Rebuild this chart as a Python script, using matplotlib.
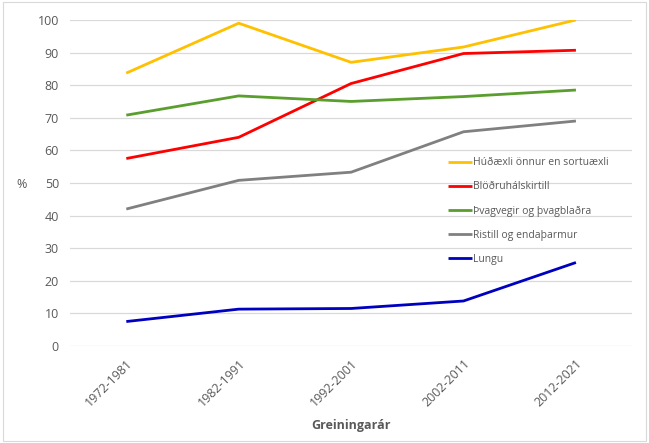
import matplotlib.pyplot as plt
import numpy as np

periods = ['1972-1981', '1982-1991', '1992-2001', '2002-2011', '2012-2021']
hud = [83.7, 99.0, 87.0, 91.7, 100.0]
blodru = [57.5, 64.0, 80.5, 89.7, 90.7]
thvag = [70.8, 76.7, 75.0, 76.5, 78.5]
ristill = [42.0, 50.8, 53.3, 65.7, 69.0]
lungu = [7.5, 11.3, 11.5, 13.8, 25.6]

names = ['Húðæxli önnur en sortuæxli', 'Blöðruhálskirtill', 'Þvagvegir og þvagblaðra',
         'Ristill og endaþarmur', 'Lungu']
colors = ['#FFC000', '#FF0000', '#5A9E2E', '#808080', '#0000C0']

plt.rcParams['font.family'] = ['Open Sans', 'DejaVu Sans']
txt = '#595959'

fig = plt.figure(figsize=(6.49, 4.43), dpi=100)
ax = fig.add_axes([0.108, 0.219, 0.866, 0.736])

x = np.arange(len(periods))
for vals, name, c in zip([hud, blodru, thvag, ristill, lungu], names, colors):
    ax.plot(x, vals, color=c, lw=2.0, label=name, solid_capstyle='butt')

ax.set_xlim(-0.5, 4.5)
ax.set_ylim(0, 100)
ax.set_yticks(range(0, 101, 10))
ax.set_xticks(x)
ax.set_xticklabels(periods, rotation=45, ha='right', rotation_mode='anchor')
ax.tick_params(length=0, colors=txt, labelsize=9, pad=8)
ax.grid(axis='y', color='#D9D9D9', lw=0.9)
ax.set_axisbelow(True)
for s in ax.spines.values():
    s.set_visible(False)

ax.set_xlabel('Greiningarár', color=txt, fontsize=9, fontweight='bold', labelpad=7)
fig.text(22 / 649, 1 - 184 / 443, '%', color=txt, fontsize=9, ha='center', va='center')

leg = ax.legend(loc='upper left', bbox_to_anchor=(0.655, 0.607), frameon=False,
                fontsize=7.5, handlelength=2.3, handletextpad=0.1, labelspacing=1.25)
for t in leg.get_texts():
    t.set_color(txt)

fig.patches.append(plt.Rectangle((0.004, 0.004), 0.992, 0.992, transform=fig.transFigure,
                                 fill=False, edgecolor='#D9D9D9', lw=0.8))

fig.savefig('out.png', dpi=100)
